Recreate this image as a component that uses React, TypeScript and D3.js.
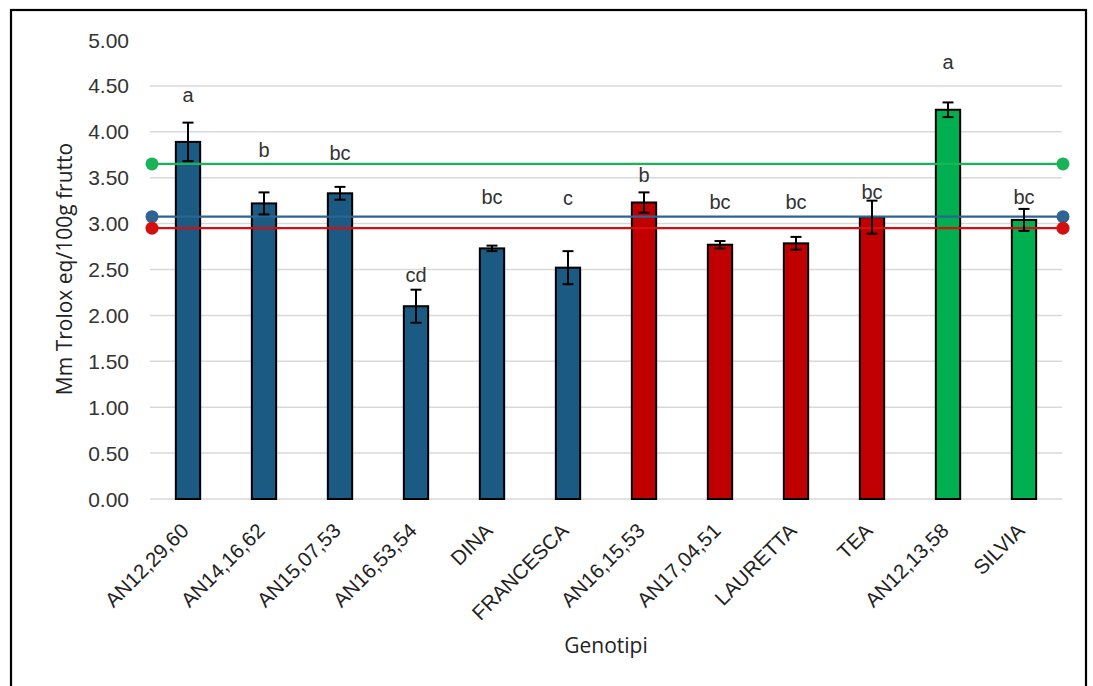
import React from "react";
import * as d3 from "d3";

// Genotypes and their antioxidant capacity (mM Trolox eq / 100 g fruit)
const genotypes = [
  "AN12,29,60", "AN14,16,62", "AN15,07,53", "AN16,53,54", "DINA", "FRANCESCA",
  "AN16,15,53", "AN17,04,51", "LAURETTA", "TEA", "AN12,13,58", "SILVIA",
];
const means = [3.89, 3.22, 3.33, 2.10, 2.73, 2.52, 3.23, 2.77, 2.785, 3.07, 4.24, 3.04];
const errors = [0.21, 0.12, 0.07, 0.18, 0.03, 0.18, 0.11, 0.04, 0.07, 0.18, 0.08, 0.12];
const groups = ["blue", "blue", "blue", "blue", "blue", "blue", "red", "red", "red", "red", "green", "green"];
// Tukey grouping letters and the height (in axis units) at which each sits
const letters = ["a", "b", "bc", "cd", "bc", "c", "b", "bc", "bc", "bc", "a", "bc"];
const letterLevels = [4.40, 3.80, 3.77, 2.44, 3.29, 3.28, 3.53, 3.24, 3.24, 3.34, 4.76, 3.29];
// Reference means: green group, overall (blue), red group
const refGroups = ["green", "blue", "red"];
const refValues = [3.65, 3.075, 2.95];
const yTicks = [0, 0.5, 1, 1.5, 2, 2.5, 3, 3.5, 4, 4.5, 5];

const barFill: Record<string, string> = { blue: "#1b5a82", red: "#c00000", green: "#00b050" };
const lineColor: Record<string, string> = { blue: "#2e6590", red: "#d40f0f", green: "#1ab35a" };

export default function App() {
  const W = 1093, H = 686;
  const x = d3.scaleBand<string>().domain(genotypes).range([150, 1062]).padding(0);
  const y = d3.scaleLinear().domain([0, 5]).range([499, 40]);
  const bw = x.bandwidth() * 0.32;
  const cap = 11;
  const num = d3.format(".2f");
  const sans = "'Liberation Sans', Arial, sans-serif";
  const title = "'Open Sans', sans-serif";

  return (
    <svg width={W} height={H} style={{ position: "absolute", left: 0, top: 0, background: "#fff" }}>
      <rect x={0} y={0} width={W} height={H} fill="#fff" />
      <rect x={11} y={10} width={1075} height={H + 10} fill="none" stroke="#000" strokeWidth={2.2} />

      {/* gridlines */}
      {yTicks.slice(0, -1).map((t) => (
        <line key={t} x1={150} x2={1062} y1={y(t)} y2={y(t)} stroke="#d9d9d9" strokeWidth={1.5} />
      ))}

      {/* y tick labels */}
      {yTicks.map((t) => (
        <text key={t} x={129} y={y(t)} dy="0.36em" textAnchor="end" fontFamily={sans} fontSize={21} fill="#333">
          {num(t)}
        </text>
      ))}

      {/* bars */}
      {genotypes.map((g, i) => (
        <rect key={g} x={x(g)! + (x.bandwidth() - bw) / 2} y={y(means[i])} width={bw}
          height={y(0) - y(means[i])} fill={barFill[groups[i]]} stroke="#000" strokeWidth={2} />
      ))}

      {/* reference mean lines */}
      {refGroups.map((gname, k) => (
        <g key={gname}>
          <line x1={152} x2={1063} y1={y(refValues[k])} y2={y(refValues[k])} stroke={lineColor[gname]} strokeWidth={2.2} />
          <circle cx={152} cy={y(refValues[k])} r={6.5} fill={lineColor[gname]} />
          <circle cx={1063} cy={y(refValues[k])} r={6.5} fill={lineColor[gname]} />
        </g>
      ))}

      {/* error bars */}
      {genotypes.map((g, i) => {
        const cx = x(g)! + x.bandwidth() / 2;
        const hi = y(means[i] + errors[i]);
        const lo = y(means[i] - errors[i]);
        return (
          <g key={g} stroke="#000" strokeWidth={2}>
            <line x1={cx} x2={cx} y1={hi} y2={lo} />
            <line x1={cx - cap / 2} x2={cx + cap / 2} y1={hi} y2={hi} />
            <line x1={cx - cap / 2} x2={cx + cap / 2} y1={lo} y2={lo} />
          </g>
        );
      })}

      {/* significance letters */}
      {genotypes.map((g, i) => (
        <text key={g} x={x(g)! + x.bandwidth() / 2} y={y(letterLevels[i])} dy="0.35em" textAnchor="middle"
          fontFamily={sans} fontSize={20} fill="#333">
          {letters[i]}
        </text>
      ))}

      {/* x tick labels */}
      {genotypes.map((g) => {
        const cx = x(g)! + x.bandwidth() / 2;
        return (
          <text key={g} transform={`translate(${cx + 2},${532}) rotate(-45)`} textAnchor="end"
            fontFamily={sans} fontSize={20.5} fill="#222">
            {g}
          </text>
        );
      })}

      {/* axis titles */}
      <text transform="translate(72,269) rotate(-90)" textAnchor="middle" fontFamily={title} fontSize={21} fill="#222">
        Mm Trolox eq/100g frutto
      </text>
      <text x={606} y={653} textAnchor="middle" fontFamily={title} fontSize={21} fill="#222">
        Genotipi
      </text>
    </svg>
  );
}
